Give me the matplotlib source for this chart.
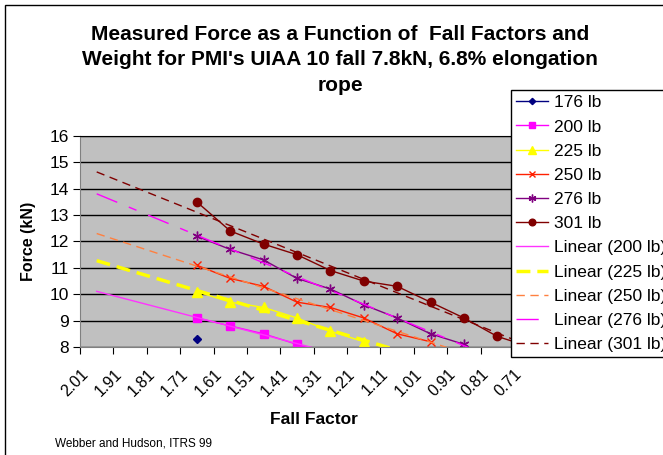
import matplotlib
matplotlib.use("Agg")
import matplotlib.pyplot as plt
import matplotlib.transforms as mtransforms
from matplotlib.patches import Rectangle
import numpy as np

plt.rcParams['font.family'] = ['Liberation Sans', 'DejaVu Sans']

# ---- data ----
ff_176 = [1.66]
f_176 = [8.3]
ff_200 = [1.66, 1.56, 1.46, 1.36, 1.26]
f_200 = [9.1, 8.8, 8.5, 8.1, 7.7]
ff_225 = [1.66, 1.56, 1.46, 1.36, 1.26, 1.16]
f_225 = [10.1, 9.7, 9.5, 9.1, 8.6, 8.2]
ff_250 = [1.66, 1.56, 1.46, 1.36, 1.26, 1.16, 1.06, 0.96]
f_250 = [11.1, 10.6, 10.3, 9.7, 9.5, 9.1, 8.5, 8.2]
ff_276 = [1.66, 1.56, 1.46, 1.36, 1.26, 1.16, 1.06, 0.96, 0.86]
f_276 = [12.2, 11.7, 11.3, 10.6, 10.2, 9.6, 9.1, 8.5, 8.1]
ff_301 = [1.66, 1.56, 1.46, 1.36, 1.26, 1.16, 1.06, 0.96, 0.86, 0.76, 0.66]
f_301 = [13.5, 12.4, 11.9, 11.5, 10.9, 10.5, 10.3, 9.7, 9.1, 8.4, 8.0]

x_ticks = [2.01, 1.91, 1.81, 1.71, 1.61, 1.51, 1.41, 1.31, 1.21, 1.11, 1.01, 0.91, 0.81, 0.71]
x_tick_labels = ["2.01", "1.91", "1.81", "1.71", "1.61", "1.51", "1.41", "1.31",
                 "1.21", "1.11", "1.01", "0.91", "0.81", "0.71"]
y_ticks = [8, 9, 10, 11, 12, 13, 14, 15, 16]

title = ("Measured Force as a Function of  Fall Factors and\n"
         "Weight for PMI's UIAA 10 fall 7.8kN, 6.8% elongation\nrope")

W, H = 663, 455
fig = plt.figure(figsize=(W / 100, H / 100), dpi=100)
fig.patch.set_facecolor('white')

ax = fig.add_axes([80 / W, 1 - 347 / H, (514 - 80) / W, (347 - 136) / H])
ax.set_facecolor('#C0C0C0')
ax.set_xlim(2.01, 0.71)
ax.set_ylim(8, 16)
ax.set_yticks(y_ticks)
ax.set_xticks(x_ticks)
ax.grid(axis='y', color='black', linewidth=1.0)
ax.set_axisbelow(True)
for s in ax.spines.values():
    s.set_color('black')
    s.set_linewidth(0.8)
ax.spines['left'].set_color('#808080')
ax.spines['bottom'].set_color('#808080')

# data series
handles = []
h, = ax.plot(ff_176, f_176, color='#000080', marker='D', markersize=4, lw=1, label='176 lb')
handles.append(h)
h, = ax.plot(ff_200, f_200, color='#FF00FF', marker='s', markersize=6, lw=1, label='200 lb')
handles.append(h)
h, = ax.plot(ff_225, f_225, color='#FFFF00', marker='^', markersize=7, lw=1, label='225 lb')
handles.append(h)
h, = ax.plot(ff_250, f_250, color='#FF2000', marker='x', markersize=6, mew=1, lw=1, label='250 lb')
handles.append(h)
h, = ax.plot(ff_276, f_276, color='#800080', marker=(6, 2, 0), markersize=7, mew=1, lw=1, label='276 lb')
handles.append(h)
h, = ax.plot(ff_301, f_301, color='#800000', marker='o', markersize=6, lw=1, label='301 lb')
handles.append(h)

# linear trendlines (backward forecast to 1.96, extended forward)
xt = np.array([1.96, 0.60])
def trend(xs, ys):
    m, b = np.polyfit(xs, ys, 1)
    return m * xt + b

h, = ax.plot(xt, trend(ff_200[:4], f_200[:4]), color='#FF33FF', lw=1.0, label='Linear (200 lb)')
handles.append(h)
h, = ax.plot(xt, trend(ff_225, f_225), color='#FFFF00', lw=2.5, dashes=(4, 2), label='Linear (225 lb)')
handles.append(h)
h, = ax.plot(xt, trend(ff_250, f_250), color='#FF8040', lw=1.0, dashes=(6, 4), label='Linear (250 lb)')
handles.append(h)
h, = ax.plot(xt, trend(ff_276, f_276), color='#FF00FF', lw=1.0, dashes=(16, 9, 6, 9), label='Linear (276 lb)')
handles.append(h)
h, = ax.plot(xt, trend(ff_301[:10], f_301[:10]), color='#800000', lw=1.0, dashes=(6, 4), label='Linear (301 lb)')
handles.append(h)

ax.tick_params(axis='y', direction='out', length=5, width=0.8, labelsize=12.5, pad=3, color='black')
ax.tick_params(axis='x', direction='out', length=5, width=0.8, labelsize=11.5, pad=9, color='black')
ax.set_xticklabels(x_tick_labels, rotation=45, ha='right', va='top')
offset = mtransforms.ScaledTranslation(11 / 100, 0, fig.dpi_scale_trans)
for lbl in ax.xaxis.get_majorticklabels():
    lbl.set_transform(lbl.get_transform() + offset)

fig.text(340 / W, 1 - 25 / H, title, ha='center', va='top', fontsize=15,
         fontweight='bold', linespacing=1.42)
fig.text(29 / W, 1 - 241 / H, 'Force (kN)', rotation=90, ha='center', va='center',
         fontsize=11.5, fontweight='bold')
fig.text(314 / W, 1 - 420 / H, 'Fall Factor', ha='center', va='center',
         fontsize=12.5, fontweight='bold')
fig.text(55 / W, 1 - 443 / H, 'Webber and Hudson, ITRS 99', ha='left', va='center',
         fontsize=8.5)

leg = fig.legend(handles=handles, loc='upper left', bbox_to_anchor=(511 / W, 1 - 90 / H),
                 bbox_transform=fig.transFigure, borderaxespad=0, fontsize=12.5,
                 frameon=True, fancybox=False, edgecolor='black', framealpha=1,
                 handlelength=1.85, handletextpad=0.3, labelspacing=0.52, borderpad=0.3,
                 markerscale=0.8)
leg.get_frame().set_linewidth(1.0)

fig.add_artist(Rectangle((5 / W, -0.5), 2.0, 1.5 - 5 / H, transform=fig.transFigure,
                         fill=False, edgecolor='black', lw=1.0))

fig.savefig('out.png', dpi=100)
